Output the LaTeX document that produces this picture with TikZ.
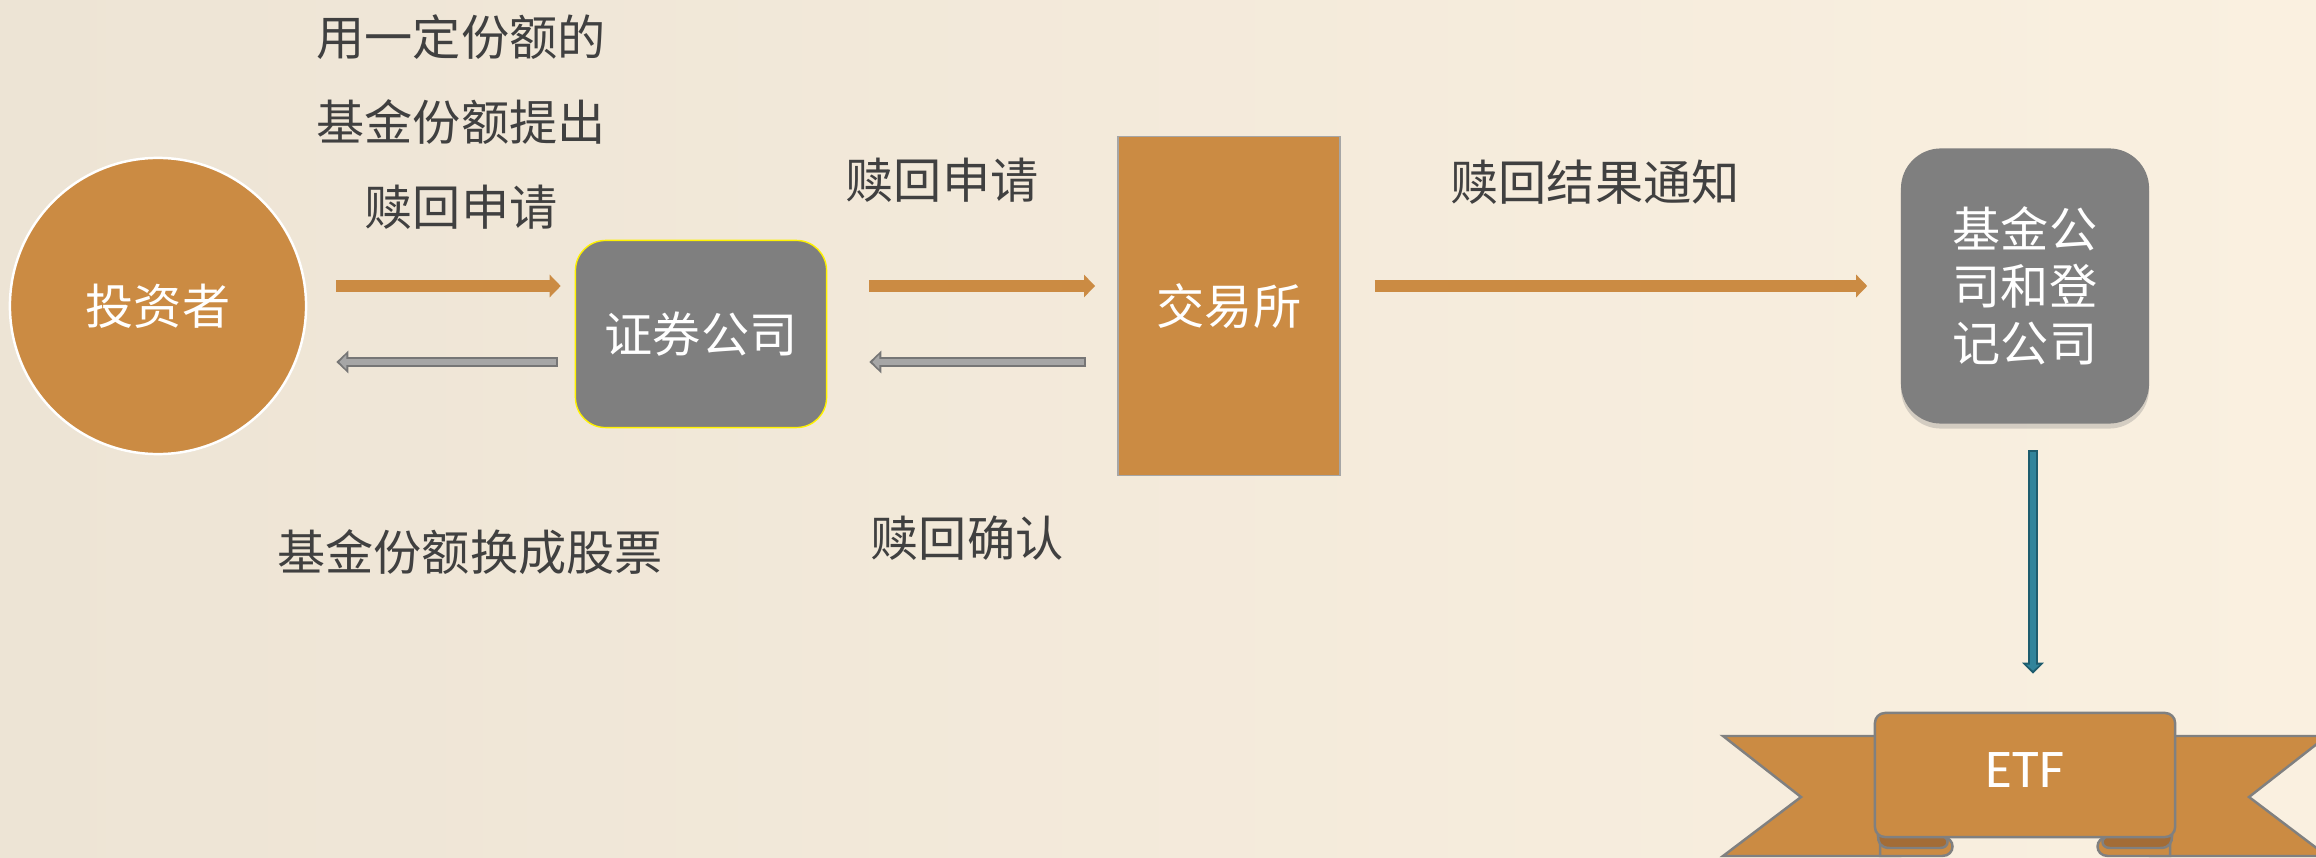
\documentclass[tikz,border=0pt]{standalone}
\usepackage{fontspec}
\setmainfont{Noto Sans CJK SC}
\newfontfamily\etffont{Carlito}
\usepackage{tikz}
\usetikzlibrary{arrows.meta,shadows}
\definecolor{bgl}{RGB}{237,228,213}
\definecolor{bgr}{RGB}{250,240,224}
\definecolor{orng}{RGB}{203,139,67}
\definecolor{boxgray}{RGB}{127,127,127}
\definecolor{txtgray}{RGB}{64,64,64}
\definecolor{gfill}{RGB}{166,166,166}
\definecolor{gline}{RGB}{118,118,118}
\definecolor{tfill}{RGB}{49,132,155}
\definecolor{tline}{RGB}{30,92,110}
\definecolor{ribline}{RGB}{128,128,128}
\definecolor{ribdark}{RGB}{163,108,54}

\begin{document}
\begin{tikzpicture}[x=0.01cm,y=-0.01cm,
  txt/.style={text=txtgray,font=\fontsize{13.7pt}{24.2pt}\selectfont,align=center,inner sep=0pt},
  wtxt/.style={text=white,font=\fontsize{13.7pt}{16.2pt}\selectfont,align=center,inner sep=0pt},
  oarrow/.style={draw=orng,line width=0.11cm,-{Triangle[length=0.11cm,width=0.22cm]}},
  garrow/.style={draw=gline,line width=0.1cm,-{Triangle[length=0.12cm,width=0.22cm]},
    postaction={draw=gfill,line width=0.06cm,shorten >=0.03cm,shorten <=0.02cm,-{Triangle[length=0.07cm,width=0.14cm]}}},
  tarrow/.style={draw=tline,line width=0.1cm,-{Triangle[length=0.11cm,width=0.21cm]},
    postaction={draw=tfill,line width=0.06cm,shorten >=0.03cm,shorten <=0.02cm,-{Triangle[length=0.06cm,width=0.13cm]}}},
  rib/.style={fill=orng,draw=ribline,line width=0.7pt}]
\clip (0,0) rectangle (2316,858);
\shade[left color=bgl,right color=bgr] (0,0) rectangle (2316,858);
%\draw[step=100,lightgray,very thin] (0,0) grid (2316,858);
\coordinate (up) at (0,286);
\coordinate (dn) at (0,362);

% boxes
\node[circle,fill=orng,draw=white,line width=0.7pt,minimum size=2.96cm,wtxt] (inv) at (158,306) {投资者};
\node[rectangle,rounded corners=0.3cm,fill=boxgray,draw=yellow,line width=0.4pt,minimum width=2.51cm,minimum height=1.87cm,wtxt] (sec) at (701,334) {证券公司};
\node[rectangle,fill=orng,draw=gfill,line width=0.5pt,minimum width=2.22cm,minimum height=3.39cm,wtxt] (exch) at (1229,306) {交易所};
\node[rectangle,rounded corners=0.4cm,fill=boxgray,minimum width=2.48cm,minimum height=2.75cm,wtxt,
  drop shadow={opacity=0.3,shadow xshift=0cm,shadow yshift=-0.05cm}] (fund) at (2025,286) {基金公\\司和登\\记公司};

% labels
\node[txt] (req1) at (461,122) {用一定份额的\\基金份额提出\\赎回申请};
\node[txt] (swap) at (470,552) {基金份额换成股票};
\node[txt] (req2) at (942,180) {赎回申请};
\node[txt] (conf) at (967,538) {赎回确认};
\node[txt] (note) at (1595,182) {赎回结果通知};

% ribbon
\filldraw[rib] (1723,736) -- (1900,736) -- (1900,856) -- (1723,856) -- (1801,797) -- cycle;
\filldraw[rib] (2327,736) -- (2150,736) -- (2150,856) -- (2327,856) -- (2249,797) -- cycle;
\filldraw[rib] (1880,837) -- (1942,837) .. controls (1956,837) and (1956,856) .. (1942,856) -- (1880,856) -- cycle;
\filldraw[fill=ribdark,draw=ribline,line width=0.7pt] (1878,836) -- (1940,836) .. controls (1950,836) and (1950,848) .. (1940,848) -- (1890,848) .. controls (1880,848) and (1878,842) .. (1878,836) -- cycle;
\filldraw[rib] (2170,837) -- (2108,837) .. controls (2094,837) and (2094,856) .. (2108,856) -- (2170,856) -- cycle;
\filldraw[fill=ribdark,draw=ribline,line width=0.7pt] (2172,836) -- (2110,836) .. controls (2100,836) and (2100,848) .. (2110,848) -- (2160,848) .. controls (2170,848) and (2172,842) .. (2172,836) -- cycle;
\node[rectangle,rounded corners=0.1cm,rib,minimum width=3.0cm,minimum height=1.24cm,text=white,
  font=\etffont\fontsize{15.5pt}{18pt}\selectfont,text depth=0.1cm] (etf) at (2025,775) {ETF};

% arrows
\draw[oarrow] ([xshift=0.29cm]inv.east |- up) -- ([xshift=-0.14cm]sec.west |- up);
\draw[garrow] ([xshift=-0.17cm]sec.west |- dn) -- ([xshift=0.29cm]inv.east |- dn);
\draw[oarrow] ([xshift=0.42cm]sec.east |- up) -- ([xshift=-0.22cm]exch.west |- up);
\draw[garrow] ([xshift=-0.31cm]exch.west |- dn) -- ([xshift=0.42cm]sec.east |- dn);
\draw[oarrow] ([xshift=0.34cm]exch.east |- up) -- ([xshift=-0.33cm]fund.west |- up);
\draw[tarrow] ([xshift=0.08cm,yshift=-0.26cm]fund.south) -- ([xshift=0.08cm,yshift=0.38cm]etf.north);
\end{tikzpicture}
\end{document}
